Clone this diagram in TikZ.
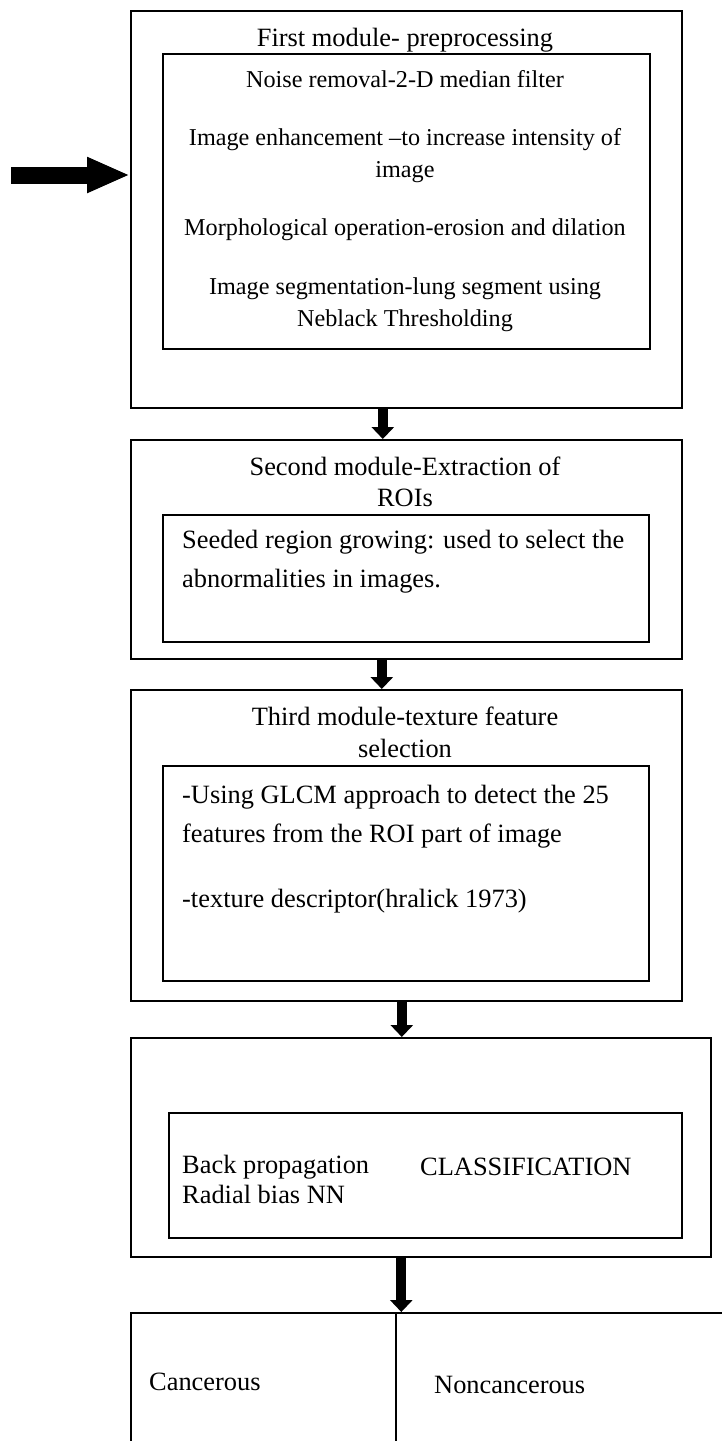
\documentclass[tikz,border=0pt]{standalone}
\usepackage{fontspec}
\setmainfont{Liberation Serif}
\usetikzlibrary{arrows.meta}
\tikzset{
  frame/.style={draw, line width=1.6pt, rectangle, inner sep=0pt, anchor=north west},
  tA/.style={font=\fontsize{24.2}{29}\selectfont, inner sep=0pt, anchor=base},
  tB/.style={font=\fontsize{26.4}{32}\selectfont, inner sep=0pt, anchor=base},
  tBl/.style={tB, anchor=base west},
  flow/.style={line width=10pt, -{Triangle[width=22pt,length=12pt]}},
  bigflow/.style={line width=17pt, -{Triangle[width=33pt,length=43pt]}},
}
\begin{document}
\begin{tikzpicture}[x=1pt,y=-1pt]
\useasboundingbox (0,0) rectangle (722,1441);
% module 1
\node[frame, minimum width=551pt, minimum height=397pt] (m1) at (130,10) {};
\node[frame, minimum width=487pt, minimum height=295pt] (m1i) at (162,53) {};
\node[tB] (t1) at (405,46) {First module- preprocessing};
\node[tA] (t1a) at (405,87) {Noise removal-2-D median filter};
\node[tA] (t1b) at (405,145) {Image enhancement –to increase intensity of};
\node[tA] (t1c) at (405,177) {image};
\node[tA] (t1d) at (405,235) {Morphological operation-erosion and dilation};
\node[tA] (t1e) at (405,294) {Image segmentation-lung segment using};
\node[tA] (t1f) at (405,326) {Neblack Thresholding};
% module 2
\node[frame, minimum width=551pt, minimum height=219pt] (m2) at (130,439) {};
\node[frame, minimum width=486pt, minimum height=127pt] (m2i) at (162,514) {};
\node[tB] (t2) at (405,475) {Second module-Extraction of};
\node[tB] (t2b) at (405,506) {ROIs};
\node[tBl] (t2c) at (182,548) {Seeded region growing: used to select the};
\node[tBl] (t2d) at (182,587) {abnormalities in images.};
% module 3
\node[frame, minimum width=551pt, minimum height=311pt] (m3) at (130,689) {};
\node[frame, minimum width=486pt, minimum height=215pt] (m3i) at (162,765) {};
\node[tB] (t3) at (405,725) {Third module-texture feature};
\node[tB] (t3b) at (405,757) {selection};
\node[tBl] (t3c) at (182,803) {-Using GLCM approach to detect the 25};
\node[tBl] (t3d) at (182,842) {features from the ROI part of image};
\node[tBl] (t3e) at (182,907) {-texture descriptor(hralick 1973)};
% module 4
\node[frame, minimum width=580pt, minimum height=219pt] (m4) at (130,1037) {};
\node[frame, minimum width=513pt, minimum height=125pt] (m4i) at (168,1112) {};
\node[tBl] (t4a) at (182,1173) {Back propagation};
\node[tBl] (t4b) at (182,1203) {Radial bias NN};
\node[tBl] (t4c) at (420,1175) {CLASSIFICATION};
% outcomes
\node[frame, minimum width=265pt, minimum height=200pt] (can) at (130,1312) {};
\node[frame, minimum width=400pt, minimum height=200pt] (noncan) at (395,1312) {};
\node[tBl] (t5a) at (149,1390) {Cancerous};
\node[tBl] (t5b) at (434,1393) {Noncancerous};
% arrows
\coordinate (in) at (11,175);
\draw[bigflow] (in) -- (in -| m1.west);
\path ([xshift=-23.5pt]m1.south) coordinate (a1);
\draw[flow] (a1) -- (a1 |- m2.north);
\path ([xshift=-24.5pt]m2.south) coordinate (a2);
\draw[flow] (a2) -- (a2 |- m3.north);
\path ([xshift=-4.5pt]m3.south) coordinate (a3);
\draw[flow] (a3) -- (a3 |- m4.north);
\path ([xshift=-19.5pt]m4.south) coordinate (a4);
\draw[flow] (a4) -- (a4 |- can.north);
\end{tikzpicture}
\end{document}
